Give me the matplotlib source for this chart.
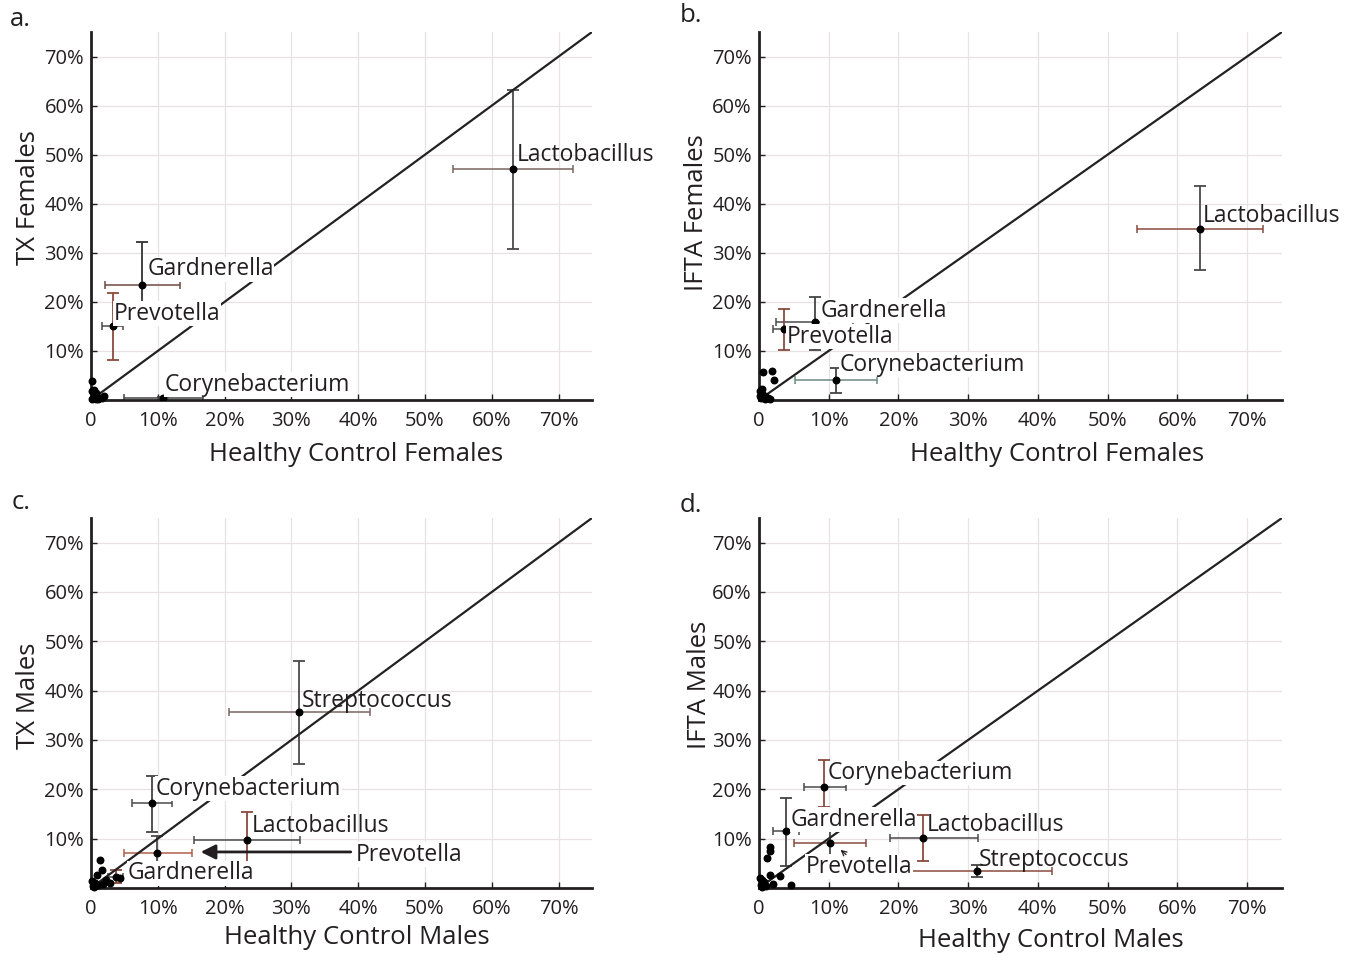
"""
Abundancia relativa de generos: pacientes vs controles saudaveis (4 paineis).
"""

import matplotlib.pyplot as plt

plt.rcParams["font.family"] = ["Open Sans", "DejaVu Sans"]

# ── Dados (% de abundancia relativa) ───────────────────────────────────────── #
# cada taxon: ponto (x, y) e limites do intervalo (lo, hi) nos dois eixos

# a. TX Females vs Healthy Control Females
A_TAXA = ["Lactobacillus", "Gardnerella", "Prevotella", "Corynebacterium"]
A_X = [63.2, 7.6, 3.25, 10.75]
A_Y = [47.0, 23.5, 15.0, 0.3]
A_X_LO = [54.2, 2.05, 1.6, 4.9]
A_X_HI = [72.2, 13.3, 4.75, 16.7]
A_Y_LO = [30.7, 15.2, 8.2, 0.0]
A_Y_HI = [63.1, 32.1, 21.9, 0.6]
A_MINOR_X = [0.1, 0.2, 0.4, 0.6, 0.9, 1.2, 1.6, 2.0, 0.3, 0.5, 0.8, 0.15, 0.7, 1.0]
A_MINOR_Y = [3.9, 1.8, 1.2, 0.9, 0.6, 0.4, 0.5, 0.8, 0.3, 2.0, 1.5, 0.2, 0.1, 0.2]

# b. IFTA Females vs Healthy Control Females
B_TAXA = ["Lactobacillus", "Gardnerella", "Prevotella", "Corynebacterium"]
B_X = [63.3, 8.0, 3.6, 11.0]
B_Y = [34.8, 15.8, 14.4, 4.1]
B_X_LO = [54.2, 2.4, 2.0, 5.2]
B_X_HI = [72.3, 13.5, 5.5, 16.9]
B_Y_LO = [26.4, 10.1, 10.1, 1.5]
B_Y_HI = [43.7, 20.9, 18.6, 6.6]
B_MINOR_X = [0.6, 1.9, 2.2, 0.2, 0.5, 0.9, 1.3, 0.3, 0.8, 1.6, 0.1, 0.4]
B_MINOR_Y = [5.6, 6.0, 4.1, 1.8, 1.2, 0.8, 0.5, 0.3, 0.2, 0.1, 0.9, 2.3]

# c. TX Males vs Healthy Control Males
C_TAXA = ["Streptococcus", "Corynebacterium", "Lactobacillus", "Prevotella", "Gardnerella"]
C_X = [31.2, 9.1, 23.4, 9.9, 3.7]
C_Y = [35.7, 17.2, 9.7, 7.1, 2.2]
C_X_LO = [20.7, 6.1, 15.4, 4.9, 2.6]
C_X_HI = [41.8, 12.1, 31.3, 15.1, 4.8]
C_Y_LO = [25.2, 11.4, 4.5, 3.7, 1.0]
C_Y_HI = [46.0, 22.7, 15.4, 10.5, 3.7]
C_MINOR_X = [1.35, 1.6, 0.85, 2.85, 4.35, 0.3, 0.6, 0.2, 1.0, 1.8, 0.4, 2.2]
C_MINOR_Y = [5.7, 3.7, 2.6, 1.0, 2.0, 0.3, 1.0, 1.5, 0.5, 0.8, 0.1, 1.6]

# d. IFTA Males vs Healthy Control Males
D_TAXA = ["Corynebacterium", "Gardnerella", "Prevotella", "Lactobacillus", "Streptococcus"]
D_X = [9.3, 3.9, 10.2, 23.5, 31.3]
D_Y = [20.5, 11.6, 9.1, 10.1, 3.4]
D_X_LO = [6.5, 2.0, 5.0, 18.8, 21.8]
D_X_HI = [12.5, 5.7, 15.4, 31.4, 42.0]
D_Y_LO = [16.4, 4.5, 4.5, 5.5, 2.2]
D_Y_HI = [26.0, 18.3, 12.8, 14.8, 4.7]
D_MINOR_X = [1.6, 1.6, 1.1, 1.6, 3.0, 4.6, 0.3, 0.7, 0.2, 1.0, 2.0, 0.5, 0.4]
D_MINOR_Y = [8.3, 7.5, 6.1, 2.6, 2.4, 0.6, 0.5, 1.2, 2.0, 0.3, 0.8, 0.1, 1.6]

X_TICKS = [0, 10, 20, 30, 40, 50, 60, 70]
X_TICK_LABELS = ["0", "10%", "20%", "30%", "40%", "50%", "60%", "70%"]
Y_TICKS = [10, 20, 30, 40, 50, 60, 70]
Y_TICK_LABELS = ["10%", "20%", "30%", "40%", "50%", "60%", "70%"]

# ── Posicao dos rotulos (coords. de dados), fundo branco e cores ──────────── #
A_LABEL_XY = [(63.7, 49.9), (8.4, 26.6), (3.4, 17.6), (11.05, 3.1)]
B_LABEL_XY = [(63.6, 37.4), (8.8, 18.2), (4.0, 12.9), (11.6, 7.2)]
C_LABEL_XY = [(31.5, 37.9), (9.7, 20.1), (24.0, 12.6), (39.6, 6.7), (5.5, 3.0)]
D_LABEL_XY = [(9.9, 23.3), (4.5, 13.8), (6.7, 4.3), (24.0, 12.8), (31.6, 5.7)]
A_MASK = [False, True, True, True]
B_MASK = [False, True, True, True]
C_MASK = [False, True, False, True, True]
D_MASK = [True, True, True, False, False]

GRAY = "#4a4a4a"
BROWN = "#8a4a3e"
A_COLORS = [(GRAY, "#7a6660"), ("#333333", "#6e4a42"), (BROWN, GRAY), (GRAY, "#444444")]
B_COLORS = [(GRAY, BROWN), ("#444444", GRAY), (BROWN, GRAY), ("#444444", "#6a8a80")]
C_COLORS = [(GRAY, "#7a6660"), ("#444444", GRAY), (BROWN, GRAY), (GRAY, "#b0604a"), (BROWN, GRAY)]
D_COLORS = [(BROWN, GRAY), ("#444444", GRAY), (GRAY, BROWN), (BROWN, GRAY), ("#444444", BROWN)]

GRID_COLOR = "#e8e2e2"
INK = "#231f20"


def _draw_panel(ax, taxa, xs, ys, x_lo, x_hi, y_lo, y_hi, minor_x, minor_y,
                label_xy, mask, colors, xlabel, ylabel):
    ax.set_xlim(0, 75)
    ax.set_ylim(0, 75)
    ax.plot([0, 75], [0, 75], color="#222222", lw=1.6, zorder=3)

    for i in range(len(taxa)):
        vcol, hcol = colors[i]
        ax.errorbar(xs[i], ys[i], yerr=[[ys[i] - y_lo[i]], [y_hi[i] - ys[i]]],
                    fmt="none", ecolor=vcol, elinewidth=1.3, capsize=4,
                    capthick=1.3, zorder=2)
        ax.errorbar(xs[i], ys[i], xerr=[[xs[i] - x_lo[i]], [x_hi[i] - xs[i]]],
                    fmt="none", ecolor=hcol, elinewidth=1.1, capsize=3,
                    capthick=1.1, zorder=2)
    ax.scatter(xs, ys, s=22, color="black", zorder=4)
    ax.scatter(minor_x, minor_y, s=22, color="black", zorder=4, clip_on=False)

    for name, (tx, ty), masked in zip(taxa, label_xy, mask):
        bbox = dict(boxstyle="square,pad=0.02", fc="white", ec="none") if masked else None
        ax.text(tx, ty, name, fontsize=16.5, ha="left", va="center",
                color=INK, zorder=5, bbox=bbox)

    ax.set_xticks(X_TICKS)
    ax.set_xticklabels(X_TICK_LABELS)
    ax.set_yticks(Y_TICKS)
    ax.set_yticklabels(Y_TICK_LABELS)
    ax.tick_params(direction="in", length=4, width=1, labelsize=14.5,
                   colors=INK, pad=5)
    ax.tick_params(axis="x", pad=8)
    ax.grid(True, color=GRID_COLOR, lw=0.9)
    ax.set_axisbelow(True)
    for side in ("top", "right"):
        ax.spines[side].set_visible(False)
    for side in ("left", "bottom"):
        ax.spines[side].set_linewidth(2)
        ax.spines[side].set_color(INK)

    ax.set_xlabel(xlabel, fontsize=18.5, color=INK, va="center")
    ax.set_ylabel(ylabel, fontsize=18.5, color=INK, va="center")


def main():
    fig = plt.figure(figsize=(13.55, 9.55), dpi=100)
    ax_a = fig.add_axes([0.0672, 0.5812, 0.3697, 0.3853])
    ax_b = fig.add_axes([0.5601, 0.5812, 0.3860, 0.3853])
    ax_c = fig.add_axes([0.0672, 0.0702, 0.3697, 0.3874])
    ax_d = fig.add_axes([0.5601, 0.0702, 0.3860, 0.3874])

    _draw_panel(ax_a, A_TAXA, A_X, A_Y, A_X_LO, A_X_HI, A_Y_LO, A_Y_HI,
                A_MINOR_X, A_MINOR_Y, A_LABEL_XY, A_MASK, A_COLORS,
                "Healthy Control Females", "TX Females")
    _draw_panel(ax_b, B_TAXA, B_X, B_Y, B_X_LO, B_X_HI, B_Y_LO, B_Y_HI,
                B_MINOR_X, B_MINOR_Y, B_LABEL_XY, B_MASK, B_COLORS,
                "Healthy Control Females", "IFTA Females")
    _draw_panel(ax_c, C_TAXA, C_X, C_Y, C_X_LO, C_X_HI, C_Y_LO, C_Y_HI,
                C_MINOR_X, C_MINOR_Y, C_LABEL_XY, C_MASK, C_COLORS,
                "Healthy Control Males", "TX Males")
    _draw_panel(ax_d, D_TAXA, D_X, D_Y, D_X_LO, D_X_HI, D_Y_LO, D_Y_HI,
                D_MINOR_X, D_MINOR_Y, D_LABEL_XY, D_MASK, D_COLORS,
                "Healthy Control Males", "IFTA Males")

    # letras dos paineis
    for letter, (px, py) in zip(["a.", "b.", "c.", "d."],
                                [(10, 20), (680, 16), (12, 502), (680, 505)]):
        fig.text(px / 1355, 1 - py / 955, letter, fontsize=18.5, color=INK,
                 ha="left", va="center")

    # posicao dos titulos dos eixos
    ax_a.xaxis.set_label_coords(0.53, -0.147)
    ax_b.xaxis.set_label_coords(0.57, -0.147)
    ax_c.xaxis.set_label_coords(0.53, -0.135)
    ax_d.xaxis.set_label_coords(0.558, -0.141)
    ax_a.yaxis.set_label_coords(-0.125, 0.55)
    ax_b.yaxis.set_label_coords(-0.119, 0.51)
    ax_c.yaxis.set_label_coords(-0.125, 0.52)
    ax_d.yaxis.set_label_coords(-0.113, 0.55)

    # setas indicando Prevotella
    ax_c.annotate("", xy=(16.0, 7.3), xytext=(39.3, 7.3),
                  arrowprops=dict(arrowstyle="-|>", color=INK, lw=2,
                                  mutation_scale=22), zorder=5)
    ax_d.annotate("", xy=(11.4, 8.1), xytext=(12.8, 6.4),
                  arrowprops=dict(arrowstyle="->", color=INK, lw=0.9,
                                  mutation_scale=9), zorder=5)

    fig.savefig("out.png", dpi=100)


if __name__ == "__main__":
    main()
